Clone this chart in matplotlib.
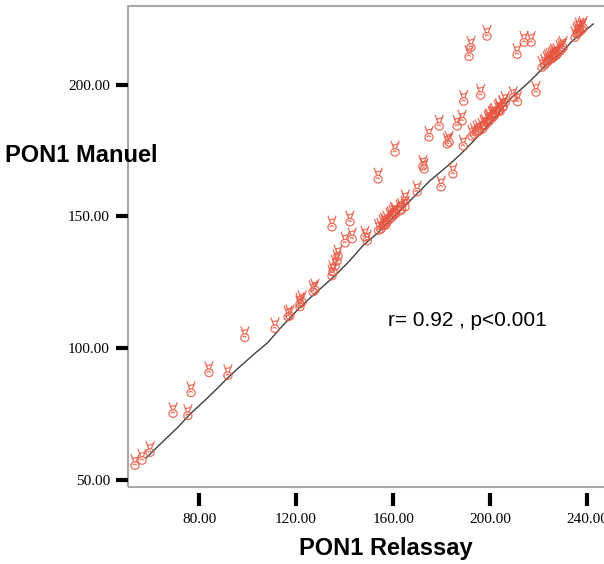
import numpy as np
import matplotlib
matplotlib.use('Agg')
import matplotlib.pyplot as plt
from matplotlib.path import Path
from matplotlib.patches import Rectangle

# PON1 Relassay (x) vs PON1 Manuel (y)
relassay = [53.6, 56.5, 59.8, 69.3, 75.4, 76.7, 84.1, 91.9, 98.9,
            111.3, 116.7, 117.5, 121.6, 121.6, 122.5, 127.0, 127.8,
            134.8, 135.2, 136.1, 136.9, 137.3, 134.8, 142.2, 140.2, 143.1, 148.4, 149.3,
            155.9, 157.5, 158.7, 160.0, 162.9, 164.9, 156.5, 159.2, 161.0, 157.0,
            163.5, 155.0, 154.0, 160.5, 153.8, 160.8,
            165.0, 169.9, 172.3, 172.8, 174.8, 179.0, 179.8, 182.3, 183.1, 184.7,
            186.4, 188.4, 188.9,
            192.5, 194.6, 196.7, 199.2, 201.2, 204.1, 205.3, 200.8, 203.3, 205.3, 206.2,
            193.5, 195.5, 197.5, 198.0, 200.0, 202.0, 203.8, 199.5, 201.5,
            209.5, 211.3, 218.9,
            221.4, 223.5, 224.7, 226.0, 227.6, 228.8, 230.1, 222.5, 225.5, 227.0,
            229.5, 224.0, 226.5,
            235.0, 236.3, 237.9, 238.3, 235.8, 237.0, 236.8,
            189.1, 196.1, 192.1, 191.3, 198.7, 214.0, 216.9, 211.1]
manuel = [56.8, 58.7, 61.7, 76.5, 75.7, 84.4, 92.0, 90.9, 105.3,
          108.7, 113.2, 113.6, 117.0, 118.1, 118.9, 122.7, 123.4,
          128.7, 130.3, 132.5, 134.4, 136.3, 147.3, 149.2, 141.2, 142.8, 143.5, 142.0,
          147.7, 149.2, 150.3, 151.5, 153.4, 154.9, 148.5, 150.8, 152.3, 148.0,
          154.0, 146.5, 146.0, 152.5, 165.5, 175.7,
          157.2, 160.6, 170.4, 169.3, 181.4, 185.6, 162.5, 178.8, 179.5, 167.4,
          185.6, 187.5, 178.0,
          181.8, 183.3, 184.4, 187.1, 189.0, 191.2, 192.8, 189.0, 191.2, 193.1, 194.6,
          182.5, 183.8, 185.5, 186.0, 188.0, 190.0, 191.8, 187.8, 189.8,
          196.5, 194.8, 198.4,
          207.9, 209.8, 210.9, 211.7, 212.8, 214.0, 215.5, 208.8, 211.2, 212.3,
          214.8, 210.5, 212.5,
          219.3, 221.2, 222.3, 223.1, 220.5, 221.5, 222.5,
          195.0, 197.3, 215.5, 212.0, 219.7, 217.4, 217.4, 212.8]

# smoothed fit line
fit_x = [58.1, 65.0, 71.3, 76.3, 83.7, 87.0, 91.9, 96.1, 103.1, 108.4, 113.4, 121.6,
         127.8, 136.1, 142.2, 147.6, 153.4, 158.7, 167.0, 175.2, 183.5, 188.4,
         192.5, 200.8, 208.2, 216.0, 224.7, 228.8, 233.8, 242.5]
fit_y = [58.3, 64.5, 70.0, 75.0, 81.3, 84.3, 88.8, 92.4, 98.1, 102.2, 107.5, 115.5,
         120.8, 127.6, 133.3, 139.0, 143.5, 148.4, 156.0, 163.6, 170.0, 174.2,
         178.0, 186.3, 194.6, 201.0, 209.0, 211.7, 216.6, 223.1]

xticks = [80, 120, 160, 200, 240]
yticks = [50, 100, 150, 200]

# "victory hand" marker: two fingers on top of an oval palm
t = np.linspace(0, 2 * np.pi, 25)
palm = np.column_stack([0.26 * np.cos(t), -0.22 + 0.24 * np.sin(t)])
inner = np.column_stack([0.1 * np.cos(t[:13]) - 0.02, -0.22 + 0.09 * np.sin(t[:13])])
verts = list(palm) + list(inner) + [(-0.08, 0.02), (-0.26, 0.5),
                                    (0.08, 0.02), (0.26, 0.5),
                                    (-0.2, 0.22), (0.2, 0.3)]
codes = ([Path.MOVETO] + [Path.LINETO] * 24 + [Path.MOVETO] + [Path.LINETO] * 12
         + [Path.MOVETO, Path.LINETO] * 3)
hand = Path(verts, codes)

fig = plt.figure(figsize=(6.04, 5.64), dpi=100)
ax = fig.add_axes([0.2119, 0.1365, 0.79, 0.8528])

ax.plot(fit_x, fit_y, color='#404040', linewidth=1.0, zorder=2)
ax.scatter(relassay, manuel, marker=hand, s=130, facecolors='none',
           edgecolors='#e8553f', linewidths=0.9, alpha=0.85, zorder=3)

ax.set_xlim(50.7, 247.4)
ax.set_ylim(47.3, 229.9)
ax.set_xticks(xticks)
ax.set_yticks(yticks)
ax.set_xticklabels(['%.2f' % v for v in xticks])
ax.set_yticklabels(['%.2f' % v for v in yticks])

for s in ax.spines.values():
    s.set_visible(False)
ax.spines['bottom'].set_position(('outward', 4))
ax.add_patch(Rectangle((0, 0), 1.2, 1, transform=ax.transAxes, fill=False,
                       edgecolor='#a8a8a8', linewidth=1.5, clip_on=False, zorder=1))

ax.tick_params(axis='both', direction='out', length=9, width=3, color='black',
               labelsize=11, labelfontfamily='Liberation Serif')
ax.tick_params(axis='x', pad=6)
ax.tick_params(axis='y', pad=4)

ax.text(157.9, 110.6, 'r= 0.92 , p<0.001', fontsize=15, family='Liberation Sans',
        va='center', ha='left')

fig.text(386 / 604, 1 - 548 / 564, 'PON1 Relassay', fontsize=17, fontweight='bold',
         family='Liberation Sans', ha='center', va='center')
fig.text(5 / 604, 1 - 155 / 564, 'PON1 Manuel', fontsize=17, fontweight='bold',
         family='Liberation Sans', ha='left', va='center', zorder=5)

fig.savefig('out.png', dpi=100)
